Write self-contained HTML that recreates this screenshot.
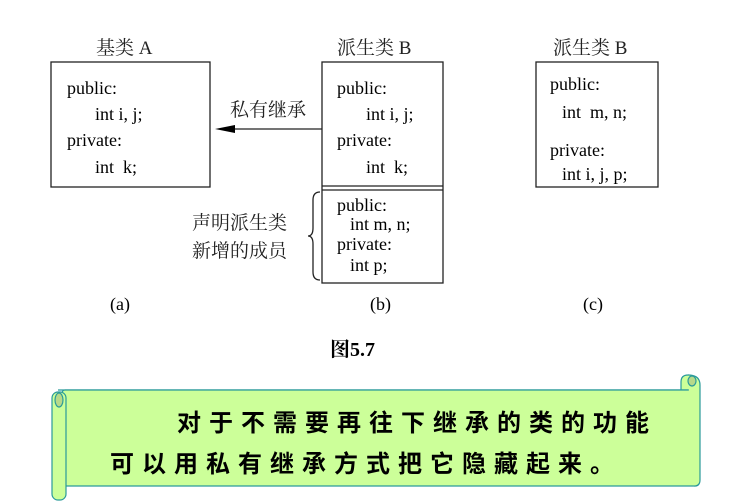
<!DOCTYPE html>
<html><head><meta charset="utf-8"><style>
html,body{margin:0;padding:0;background:#fff;}
svg{display:block}
.t{font-family:"Liberation Serif","Noto Serif CJK SC",serif;font-size:18px;fill:#000}
.c{font-family:"Liberation Serif","Noto Serif CJK SC",serif;font-size:19px;fill:#222}
</style></head><body>
<svg width="749" height="502" viewBox="0 0 749 502" xmlns="http://www.w3.org/2000/svg">
<g fill="none" stroke="#222" stroke-width="1.3">
<rect x="51" y="62" width="159" height="125"/>
<rect x="322" y="62" width="121" height="221"/>
<line x1="322" y1="186" x2="443" y2="186"/>
<line x1="322" y1="190" x2="443" y2="190"/>
<rect x="536" y="62" width="122" height="125"/>
<line x1="322" y1="129" x2="230" y2="129"/>
<path d="M320 192 Q313 192 313 200 L313 228 Q313 236 308 236 Q313 236 313 244 L313 272 Q313 280 320 280"/>
</g>
<polygon points="215,129 235,125 235,133" fill="#000"/>
<g class="c">
<text x="96" y="54">基类 A</text>
<text x="337" y="54">派生类 B</text>
<text x="553" y="54">派生类 B</text>
<text x="230" y="116">私有继承</text>
<text x="192" y="229">声明派生类</text>
<text x="192" y="257">新增的成员</text>
</g>
<g class="t">
<text x="67" y="94">public:</text>
<text x="95" y="120">int i, j;</text>
<text x="67" y="146">private:</text>
<text x="95" y="173">int&#160; k;</text>
<text x="337" y="94">public:</text>
<text x="366" y="120">int i, j;</text>
<text x="337" y="146">private:</text>
<text x="366" y="173">int&#160; k;</text>
<text x="337" y="211">public:</text>
<text x="350" y="230">int m, n;</text>
<text x="337" y="250">private:</text>
<text x="350" y="271">int p;</text>
<text x="550" y="90">public:</text>
<text x="562" y="118">int&#160; m, n;</text>
<text x="550" y="156">private:</text>
<text x="562" y="180">int i, j, p;</text>
<text x="110" y="310">(a)</text>
<text x="370" y="310">(b)</text>
<text x="583" y="310">(c)</text>
<text x="330" y="356" font-weight="bold" font-size="20">图5.7</text>
</g>
<g stroke="#2a9a9a" stroke-width="1.2" fill="#ccff99">
<path d="M58 390 L695 390 L695 382 Q695 375 688 375 Q681 375 681 382 L681 390"/>
<rect x="62" y="390" width="637" height="96" rx="3"/>
<path d="M688 375 Q700 375 700 385 L700 480 Q700 486 694 486"/>
<rect x="52" y="392" width="14" height="108" rx="6"/>
<ellipse cx="59" cy="400" rx="4" ry="7" fill="#b7d98a"/>
<ellipse cx="692" cy="381" rx="4" ry="5" fill="#b7d98a"/>
</g>
<g font-family="'Noto Sans CJK SC','WenQuanYi Zen Hei',sans-serif" font-weight="bold" font-size="24" fill="#000" letter-spacing="8">
<text x="177" y="431">对于不需要再往下继承的类的功能</text>
<text x="110" y="472">可以用私有继承方式把它隐藏起来。</text>
</g>
</svg>
</body></html>
